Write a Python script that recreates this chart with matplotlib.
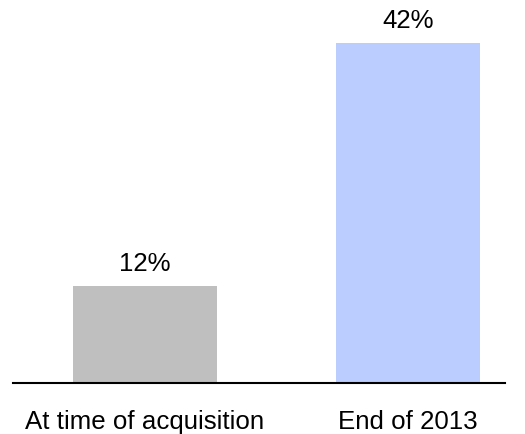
import matplotlib.pyplot as plt

categories = ['At time of acquisition', 'End of 2013']
values = [12, 42]
colors = ['#BFBFBF', '#BBCCFF']

plt.rcParams['font.family'] = ['Liberation Sans', 'DejaVu Sans']

fig = plt.figure(figsize=(5.25, 4.35), dpi=100)
ax = fig.add_axes([13 / 525, 51 / 435, 492 / 525, 372.6 / 435])

x = range(len(categories))
ax.bar(x, values, width=0.548, color=colors, edgecolor='none')

for xi, v in zip(x, values):
    ax.annotate(f'{v}%', (xi, v), xytext=(0, 11.5), textcoords='offset points',
                ha='center', va='baseline', fontsize=18.6)
for xi, c in zip(x, categories):
    ax.annotate(c, (xi, 0), xycoords=('data', 'axes fraction'), xytext=(0, -32.4),
                textcoords='offset points', ha='center', va='baseline', fontsize=18.6)

ax.set_xlim(-0.502, 1.369)
ax.set_ylim(0, 46)
for s in ['top', 'left', 'right']:
    ax.spines[s].set_visible(False)
ax.spines['bottom'].set_linewidth(1.5)
ax.set_xticks([])
ax.set_yticks([])

plt.savefig('out.png')
